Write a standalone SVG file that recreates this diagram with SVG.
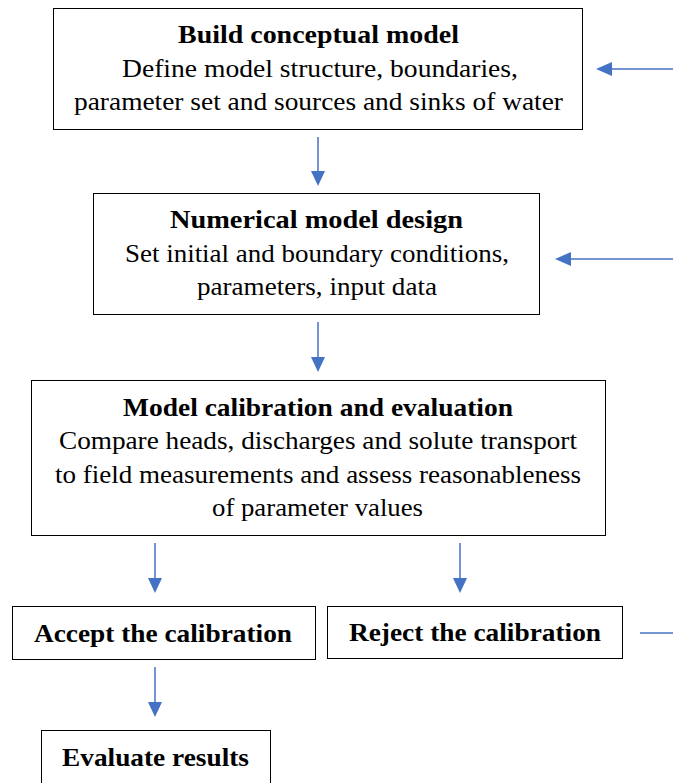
<svg xmlns="http://www.w3.org/2000/svg" width="673" height="783" viewBox="0 0 673 783">
<defs>
<style>
.box{fill:#fff;stroke:#000;stroke-width:1}
text{font-family:'Liberation Serif','Times New Roman',serif;font-size:25px;font-weight:normal;font-style:normal;fill:#000;text-anchor:middle}
text.b{font-weight:bold}
.c{stroke:#4472C4;stroke-width:1.5;fill:none}
.h{fill:#4472C4}
</style>
</defs>
<rect width="673" height="783" fill="#fff"/>
<g id="build">
<rect class="box" x="53.5" y="8.5" width="529" height="121"/>
<text class="b" x="318.5" y="43" textLength="281" lengthAdjust="spacingAndGlyphs">Build conceptual model</text>
<text x="320" y="77" textLength="396" lengthAdjust="spacingAndGlyphs">Define model structure, boundaries,</text>
<text x="318.5" y="110" textLength="489" lengthAdjust="spacingAndGlyphs">parameter set and sources and sinks of water</text>
</g>
<g id="design">
<rect class="box" x="93.5" y="193.5" width="446" height="121"/>
<text class="b" x="316.5" y="228" textLength="293" lengthAdjust="spacingAndGlyphs">Numerical model design</text>
<text x="317" y="262" textLength="384" lengthAdjust="spacingAndGlyphs">Set initial and boundary conditions,</text>
<text x="317" y="295" textLength="240" lengthAdjust="spacingAndGlyphs">parameters, input data</text>
</g>
<g id="calib">
<rect class="box" x="31.5" y="380.5" width="574" height="155"/>
<text class="b" x="318" y="416" textLength="390" lengthAdjust="spacingAndGlyphs">Model calibration and evaluation</text>
<text x="318" y="449" textLength="518" lengthAdjust="spacingAndGlyphs">Compare heads, discharges and solute transport</text>
<text x="318" y="483" textLength="526" lengthAdjust="spacingAndGlyphs">to field measurements and assess reasonableness</text>
<text x="317.5" y="516" textLength="211" lengthAdjust="spacingAndGlyphs">of parameter values</text>
</g>
<g id="accept">
<rect class="box" x="12.5" y="606.5" width="303" height="53"/>
<text class="b" x="163" y="642" textLength="258" lengthAdjust="spacingAndGlyphs">Accept the calibration</text>
</g>
<g id="reject">
<rect class="box" x="327.5" y="606.5" width="295" height="52"/>
<text class="b" x="475" y="641" textLength="252" lengthAdjust="spacingAndGlyphs">Reject the calibration</text>
</g>
<g id="evaluate">
<rect class="box" x="41.5" y="730.5" width="229" height="60"/>
<text class="b" x="155.5" y="766" textLength="187" lengthAdjust="spacingAndGlyphs">Evaluate results</text>
</g>
<g id="connectors">
<line class="c" x1="318" y1="137" x2="318" y2="172"/>
<path class="h" d="M311,171 L325,171 L318,186 Z"/>
<line class="c" x1="318" y1="322" x2="318" y2="358"/>
<path class="h" d="M311,357 L325,357 L318,372 Z"/>
<line class="c" x1="155" y1="543" x2="155" y2="579"/>
<path class="h" d="M148,578 L162,578 L155,593 Z"/>
<line class="c" x1="460" y1="543" x2="460" y2="579"/>
<path class="h" d="M453,578 L467,578 L460,593 Z"/>
<line class="c" x1="155" y1="667" x2="155" y2="703"/>
<path class="h" d="M148,702 L162,702 L155,717 Z"/>
<line class="c" x1="673" y1="69" x2="611" y2="69"/>
<path class="h" d="M612,62 L612,76 L596,69 Z"/>
<line class="c" x1="673" y1="259" x2="570" y2="259"/>
<path class="h" d="M571,252 L571,266 L555,259 Z"/>
<line class="c" x1="640" y1="633" x2="673" y2="633"/>
</g>
</svg>
